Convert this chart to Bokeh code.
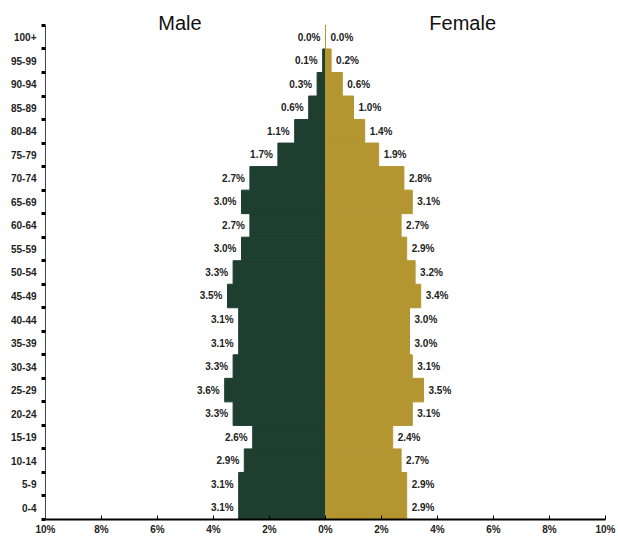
from bokeh.plotting import figure
from bokeh.models import Range1d, FixedTicker, ColumnDataSource, Label
from bokeh.core.properties import value
from bokeh.embed import file_html
from bokeh.resources import INLINE

# Age groups from youngest to oldest
age_groups = ["0-4", "5-9", "10-14", "15-19", "20-24", "25-29", "30-34", "35-39",
              "40-44", "45-49", "50-54", "55-59", "60-64", "65-69", "70-74", "75-79",
              "80-84", "85-89", "90-94", "95-99", "100+"]
# Share of total population (%)
male = [3.1, 3.1, 2.9, 2.6, 3.3, 3.6, 3.3, 3.1, 3.1, 3.5, 3.3, 3.0, 2.7, 3.0, 2.7, 1.7,
        1.1, 0.6, 0.3, 0.1, 0.0]
female = [2.9, 2.9, 2.7, 2.4, 3.1, 3.5, 3.1, 3.0, 3.0, 3.4, 3.2, 2.9, 2.7, 3.1, 2.8, 1.9,
          1.4, 1.0, 0.6, 0.2, 0.0]
x_ticks = [-10, -8, -6, -4, -2, 0, 2, 4, 6, 8, 10]

MALE_COLOR = "#1e3e30"
FEMALE_COLOR = "#b49631"
FONT = "Liberation Sans"

n = len(age_groups)
centers = [i + 0.5 for i in range(n)]
# extra headroom above the oldest row for the side headings
head_room = 1.06

src = ColumnDataSource(dict(
    y=centers,
    male_left=[-v for v in male],
    female_right=female,
    zero=[0.0] * n,
    male_txt=[f"{v:.1f}%" for v in male],
    female_txt=[f"{v:.1f}%" for v in female],
))

p = figure(width=618, height=537, output_backend="svg", toolbar_location=None,
           x_range=Range1d(-10, 10), y_range=Range1d(0, n + head_room),
           min_border_left=45, min_border_right=13, min_border_top=0,
           min_border_bottom=16)
p.outline_line_color = None
p.xgrid.visible = False
p.ygrid.visible = False
p.background_fill_color = "white"
p.border_fill_color = "white"

# Pyramid bars
p.hbar(y="y", left="male_left", right="zero", height=1.0, source=src,
       fill_color=MALE_COLOR, line_color=MALE_COLOR, line_width=1)
p.hbar(y="y", left="zero", right="female_right", height=1.0, source=src,
       fill_color=FEMALE_COLOR, line_color=FEMALE_COLOR, line_width=1)

# Value labels at the bar ends
p.text(x="male_left", y="y", text="male_txt", source=src, x_offset=-5,
       text_align="right", text_baseline="middle", text_font=value(FONT),
       text_font_size="10px", text_font_style="bold", text_color="#222222")
p.text(x="female_right", y="y", text="female_txt", source=src, x_offset=5,
       text_align="left", text_baseline="middle", text_font=value(FONT),
       text_font_size="10px", text_font_style="bold", text_color="#222222")

# Side headings just above the oldest row
for txt, xv in (("Male", -5.2), ("Female", 4.9)):
    p.add_layout(Label(x=xv, y=n + 0.12, x_units="data", y_units="data", text=txt,
                       text_align="center", text_baseline="middle",
                       text_font=FONT, text_font_size="20px",
                       text_color="#111111"))

# Age axis: labels centred on rows, marks on row boundaries
ya = p.yaxis[0]
ya.bounds = (0, n)
ya.ticker = FixedTicker(ticks=centers, minor_ticks=list(range(n + 1)))
ya.major_label_overrides = {c: g for c, g in zip(centers, age_groups)}
ya.major_tick_line_color = None
ya.major_tick_out = 0
ya.major_tick_in = 0
ya.minor_tick_out = 4
ya.minor_tick_in = 0
ya.minor_tick_line_width = 3
ya.minor_tick_line_color = "black"
ya.axis_line_color = "#444444"
ya.axis_line_width = 1
ya.major_label_standoff = 5
ya.major_label_text_font = FONT
ya.major_label_text_font_size = "10px"
ya.major_label_text_font_style = "bold"
ya.major_label_text_color = "#222222"

# Percentage axis, symmetric around zero
xa = p.xaxis[0]
xa.ticker = FixedTicker(ticks=x_ticks, minor_ticks=[])
xa.major_label_overrides = {t: f"{abs(t)}%" for t in x_ticks}
xa.axis_line_color = "black"
xa.axis_line_width = 2
xa.major_tick_in = 4
xa.major_tick_out = 0
xa.major_tick_line_color = "black"
xa.major_tick_line_width = 1
xa.minor_tick_line_color = None
xa.major_label_standoff = 4
xa.major_label_text_font = FONT
xa.major_label_text_font_size = "10px"
xa.major_label_text_font_style = "bold"
xa.major_label_text_color = "#222222"

open("out.html", "w").write(file_html(p, INLINE))
